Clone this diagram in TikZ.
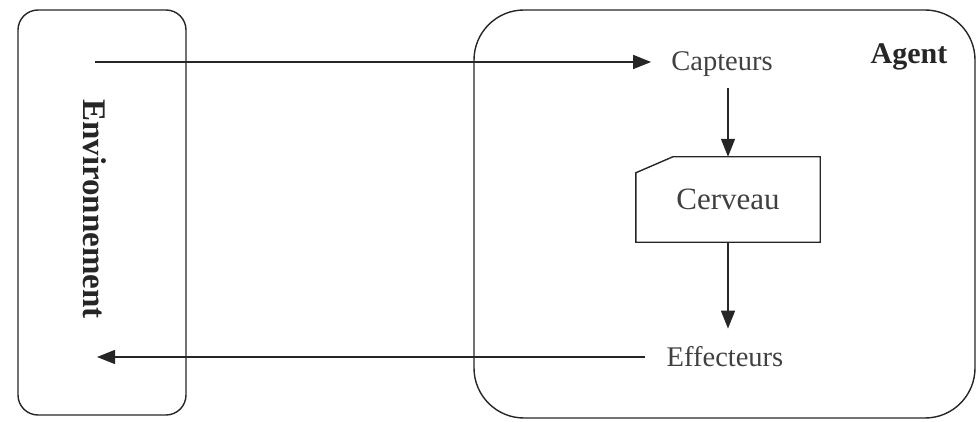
\documentclass[tikz,border=0pt]{standalone}
\usepackage{fontspec}
\setmainfont{Liberation Serif}
\usetikzlibrary{arrows.meta,calc}
\begin{document}
\begin{tikzpicture}[x=1pt,y=-1pt,
  ink/.style={draw=black!85, line width=1.4pt},
  flow/.style={ink, -{Triangle[length=18pt,width=14pt]}},
  label/.style={text=black!75, font=\fontsize{28.5}{30}\selectfont}
]
\useasboundingbox (0,0) rectangle (976,422);

% environment and agent frames
\node[ink, minimum width=168pt, minimum height=405pt, rounded corners=20pt, inner sep=0pt] (env) at (102,212.5) {};
\node[ink, minimum width=501pt, minimum height=408pt, rounded corners=50pt, inner sep=0pt] (agent) at (724.5,214) {};

% labels of the frames
\node[rotate=-90, text=black!85, font=\fontsize{33}{35}\bfseries] (envlabel) at (95,209) {Environnement};
\node[text=black!85, font=\fontsize{30}{32}\bfseries] (agentlabel) at (909,57) {Agent};

% agent components
\node[label, inner xsep=20pt, inner ysep=11pt] (capteurs) at (722,64) {Capteurs};
\node[minimum width=184pt, minimum height=85pt, inner sep=0pt,
      font=\fontsize{31}{33}\selectfont, text=black!75] (cerveau) at (728,199.5) {Cerveau};
\draw[ink, line join=miter] ($(cerveau.north west)+(0,16)$) -- ($(cerveau.north west)+(37,0)$)
  -- (cerveau.north east) -- (cerveau.south east) -- (cerveau.south west) -- cycle;
\node[label, inner xsep=22pt, inner ysep=18pt] (effecteurs) at (725,357) {Effecteurs};

% perception / action flow
\coordinate (percept) at (95,62);
\coordinate (action) at (97,357);
\draw[flow] (percept) -- (percept -| capteurs.west);
\draw[flow] (cerveau.north |- capteurs.south) -- (cerveau.north);
\draw[flow] (cerveau.south) -- (cerveau.south |- effecteurs.north);
\draw[flow] (effecteurs.west) -- (action);
\end{tikzpicture}
\end{document}
